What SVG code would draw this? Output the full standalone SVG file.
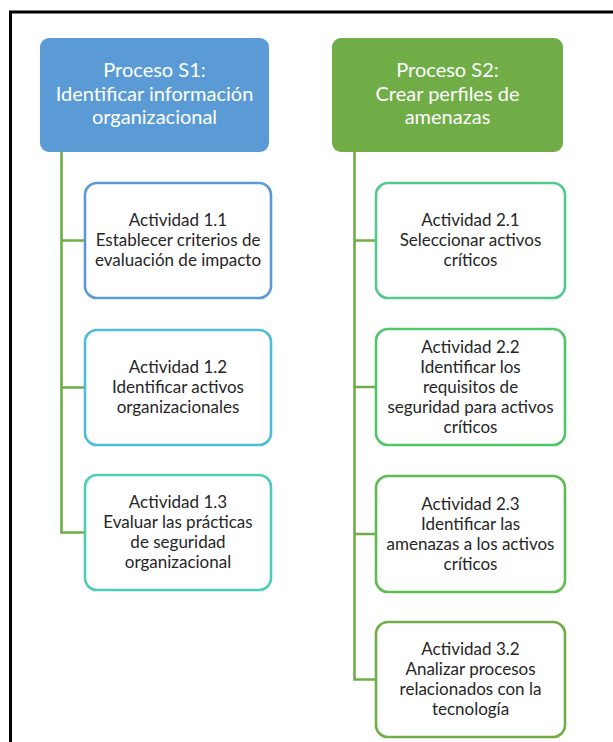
<svg xmlns="http://www.w3.org/2000/svg" width="613" height="742" viewBox="0 0 613 742">
  <style>
    .head { font-family: Lato, "Liberation Sans", sans-serif; font-size: 20px; fill: #ffffff; text-anchor: middle; }
    .body { font-family: Lato, "Liberation Sans", sans-serif; font-size: 17px; fill: #262626; text-anchor: middle; }
    .act { fill: #ffffff; stroke-width: 2.6; }
    .wire { fill: none; stroke: #70AD47; stroke-width: 2.6; }
  </style>
  <rect width="613" height="742" fill="#ffffff"/>
  <!-- outer frame -->
  <rect x="10.5" y="12" width="640" height="760" fill="none" stroke="#000000" stroke-width="3"/>

  <g id="connectors">
    <path class="wire" d="M61.5 152 V532.5 H85 M61.5 240.5 H85 M61.5 387.5 H85"/>
    <path class="wire" d="M354.5 152 V679.5 H376 M354.5 240.5 H376 M354.5 387 H376 M354.5 534 H376"/>
  </g>

  <g id="proceso-s1">
    <rect x="40" y="38" width="229" height="114" rx="9" fill="#5B9BD5"/>
    <text class="head" x="154.5" y="77">Proceso S1:</text>
    <text class="head" x="154.5" y="100.5">Identificar información</text>
    <text class="head" x="154.5" y="124">organizacional</text>
  </g>

  <g id="proceso-s2">
    <rect x="332" y="38" width="231" height="114" rx="9" fill="#70AD47"/>
    <text class="head" x="447.5" y="77">Proceso S2:</text>
    <text class="head" x="447.5" y="100.5">Crear perfiles de</text>
    <text class="head" x="447.5" y="124">amenazas</text>
  </g>

  <g id="actividad-1-1">
    <rect class="act" x="85" y="183" width="186" height="115" rx="12" stroke="#5B9BD5"/>
    <text class="body" x="178" y="226">Actividad 1.1</text>
    <text class="body" x="178" y="246">Establecer criterios de</text>
    <text class="body" x="178" y="266">evaluación de impacto</text>
  </g>

  <g id="actividad-1-2">
    <rect class="act" x="85" y="330" width="186" height="115" rx="12" stroke="#4DBDD9"/>
    <text class="body" x="178" y="373">Actividad 1.2</text>
    <text class="body" x="178" y="393">Identificar activos</text>
    <text class="body" x="178" y="413">organizacionales</text>
  </g>

  <g id="actividad-1-3">
    <rect class="act" x="85" y="475" width="186" height="115" rx="12" stroke="#4ECDB6"/>
    <text class="body" x="178" y="508">Actividad 1.3</text>
    <text class="body" x="178" y="528">Evaluar las prácticas</text>
    <text class="body" x="178" y="548">de seguridad</text>
    <text class="body" x="178" y="568">organizacional</text>
  </g>

  <g id="actividad-2-1">
    <rect class="act" x="376" y="183" width="189" height="115" rx="12" stroke="#54C98E"/>
    <text class="body" x="470.5" y="226">Actividad 2.1</text>
    <text class="body" x="470.5" y="246">Seleccionar activos</text>
    <text class="body" x="470.5" y="266">críticos</text>
  </g>

  <g id="actividad-2-2">
    <rect class="act" x="376" y="329" width="189" height="116" rx="12" stroke="#50C56A"/>
    <text class="body" x="470.5" y="352.5">Actividad 2.2</text>
    <text class="body" x="470.5" y="372.5">Identificar los</text>
    <text class="body" x="470.5" y="392.5">requisitos de</text>
    <text class="body" x="470.5" y="412.5">seguridad para activos</text>
    <text class="body" x="470.5" y="432.5">críticos</text>
  </g>

  <g id="actividad-2-3">
    <rect class="act" x="376" y="476" width="189" height="116" rx="12" stroke="#5CBE50"/>
    <text class="body" x="470.5" y="509.5">Actividad 2.3</text>
    <text class="body" x="470.5" y="529.5">Identificar las</text>
    <text class="body" x="470.5" y="549.5">amenazas a los activos</text>
    <text class="body" x="470.5" y="569.5">críticos</text>
  </g>

  <g id="actividad-3-2">
    <rect class="act" x="376" y="622" width="189" height="115" rx="12" stroke="#70AD47"/>
    <text class="body" x="470.5" y="655">Actividad 3.2</text>
    <text class="body" x="470.5" y="675">Analizar procesos</text>
    <text class="body" x="470.5" y="695">relacionados con la</text>
    <text class="body" x="470.5" y="715">tecnología</text>
  </g>
</svg>
